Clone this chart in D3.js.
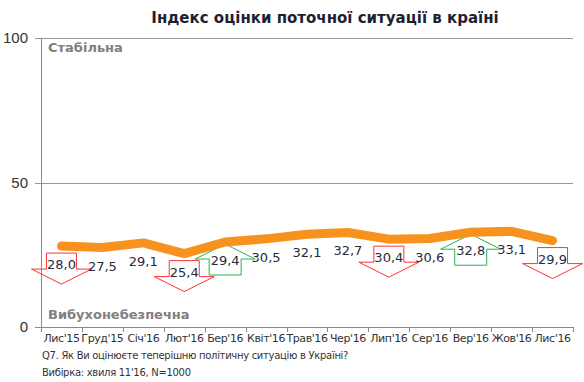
<!DOCTYPE html>
<html>
<head>
<meta charset="utf-8">
<script src="https://cdn.jsdelivr.net/npm/d3@7"></script>
<style>
  body { margin: 0; background: #fff; }
  svg { display: block; }
</style>
</head>
<body>
<script>
// chart data
var months = ["Лис'15", "Груд'15", "Січ'16", "Лют'16", "Бер'16", "Квіт'16", "Трав'16",
              "Чер'16", "Лип'16", "Сер'16", "Вер'16", "Жов'16", "Лис'16"];
var values = [28.0, 27.5, 29.1, 25.4, 29.4, 30.5, 32.1, 32.7, 30.4, 30.6, 32.8, 33.1, 29.9];
// change markers: -1 = arrow down, 1 = arrow up, 0 = none
var trend = [-1, 0, 0, -1, 1, 0, 0, 0, -1, 0, 1, 0, -1];
var yTicks = [0, 50, 100];

var W = 584, H = 382;
var margin = {left: 41, right: 11, top: 38, bottom: 55};

var svg = d3.select('body').append('svg').attr('width', W).attr('height', H);

var x = d3.scaleBand().domain(months).range([margin.left, W - margin.right]);
var y = d3.scaleLinear().domain([0, 100]).range([H - margin.bottom, margin.top]);

var font = 'Verdana, "DejaVu Sans", sans-serif';

// title
svg.append('text')
    .attr('x', 325).attr('y', 23)
    .attr('text-anchor', 'middle')
    .style('font', 'bold 15px ' + font)
    .style('fill', '#1f1f33')
    .text('Індекс оцінки поточної ситуації в країні');

// horizontal grid lines (100 and 50) and the base line
svg.append('g').selectAll('line').data(yTicks).join('line')
    .attr('x1', margin.left - 6).attr('x2', W - margin.right)
    .attr('y1', function(d) {return Math.round(y(d)) + 0.5;})
    .attr('y2', function(d) {return Math.round(y(d)) + 0.5;})
    .style('stroke', function(d) {return d === 0 ? '#888' : '#999';})
    .style('stroke-width', 1);

// y axis line
svg.append('line')
    .attr('x1', margin.left + 0.5).attr('x2', margin.left + 0.5)
    .attr('y1', y(100)).attr('y2', y(0))
    .style('stroke', '#888');

// y tick labels
svg.append('g').selectAll('text').data(yTicks).join('text')
    .attr('x', 28).attr('y', function(d) {return y(d) + 5;})
    .attr('text-anchor', 'end')
    .style('font', '15px "Liberation Sans", Arial, sans-serif')
    .style('fill', '#333')
    .text(function(d) {return d;});

// x ticks at category boundaries
var bounds = months.map(function(m) {return x(m);}).concat([W - margin.right]);
svg.append('g').selectAll('line').data(bounds).join('line')
    .attr('x1', function(d) {return Math.round(d) + 0.5;})
    .attr('x2', function(d) {return Math.round(d) + 0.5;})
    .attr('y1', y(0)).attr('y2', y(0) + 5)
    .style('stroke', '#888');

// x labels
svg.append('g').selectAll('text').data(months).join('text')
    .attr('x', function(d) {return x(d) + x.bandwidth() / 2;})
    .attr('y', 342)
    .attr('text-anchor', 'middle')
    .style('font', '11px ' + font)
    .style('letter-spacing', '-0.4px')
    .style('fill', '#333')
    .text(function(d) {return d;});

// zone captions
svg.append('text').attr('x', 48).attr('y', 52)
    .style('font', 'bold 13px ' + font).style('fill', '#808080')
    .text('Стабільна');
svg.append('text').attr('x', 48).attr('y', 319)
    .style('font', 'bold 13px ' + font).style('fill', '#808080')
    .text('Вибухонебезпечна');

// arrows behind the labels
function cx(i) {return x(months[i]) + x.bandwidth() / 2;}

var arrows = svg.append('g');
trend.forEach(function(t, i) {
    if (!t) return;
    var px = cx(i), py = y(values[i]);
    var pts;
    if (t < 0) {
        pts = [[px - 15, py + 7], [px + 15, py + 7], [px + 15, py + 23], [px + 30, py + 23],
               [px, py + 38], [px - 30, py + 23], [px - 15, py + 23]];
    } else {
        pts = [[px, py + 2], [px + 30, py + 17], [px + 16, py + 17], [px + 16, py + 33],
               [px - 16, py + 33], [px - 16, py + 17], [px - 30, py + 17]];
    }
    arrows.append('polygon')
        .attr('points', pts.map(function(p) {return p.join(',');}).join(' '))
        .style('fill', 'none')
        .style('stroke', t < 0 ? '#ff3333' : '#2cb24e')
        .style('stroke-width', 1);
});

// the index line
var line = d3.line()
    .x(function(d, i) {return cx(i);})
    .y(function(d) {return y(d);});

svg.append('path')
    .datum(values)
    .attr('d', line)
    .style('fill', 'none')
    .style('stroke', '#f7921e')
    .style('stroke-width', 9)
    .style('stroke-linecap', 'round')
    .style('stroke-linejoin', 'round');

// value labels
svg.append('g').selectAll('text').data(values).join('text')
    .attr('x', function(d, i) {return cx(i);})
    .attr('y', function(d, i) {return y(d) + 23;})
    .attr('text-anchor', 'middle')
    .style('font', '13px ' + font)
    .style('fill', '#2a2a3a')
    .text(function(d) {return d.toFixed(1).replace('.', ',');});

// footnote
svg.append('text').attr('x', 42).attr('y', 359)
    .style('font', '10px ' + font).style('fill', '#333')
    .style('letter-spacing', '-0.3px')
    .text('Q7. Як Ви оцінюєте теперішню політичну ситуацію в Україні?');
svg.append('text').attr('x', 42).attr('y', 376)
    .style('font', '10px ' + font).style('fill', '#333')
    .style('letter-spacing', '-0.3px')
    .text('Вибірка: хвиля 11\'16, N=1000');
</script>
</body>
</html>
